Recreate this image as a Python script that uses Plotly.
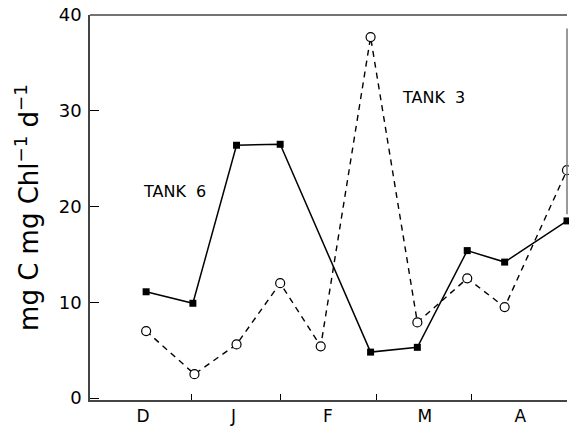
import plotly.graph_objects as go

# Sampling dates (days from start of December)
x_tank6 = [18, 33, 47, 61, 90, 105, 121, 133, 153]
y_tank6 = [11.1, 9.9, 26.4, 26.5, 4.8, 5.3, 15.4, 14.2, 18.5]

x_tank3 = [18, 33.5, 47, 61, 74, 90, 105, 121, 133, 153]
y_tank3 = [7.0, 2.5, 5.6, 12.0, 5.4, 37.7, 7.9, 12.5, 9.5, 23.8]

month_labels = ["D", "J", "F", "M", "A"]
month_label_pos = [17, 46, 76.3, 107.4, 138]
month_bounds = [32.7, 61, 92, 122.5]
y_ticks = [0, 10, 20, 30, 40]

fig = go.Figure()
fig.add_trace(go.Scatter(
    x=x_tank6, y=y_tank6, mode="lines+markers", name="TANK 6",
    line=dict(color="black", width=1.5),
    marker=dict(symbol="square", size=7, color="black"),
    cliponaxis=False, showlegend=False))
fig.add_trace(go.Scatter(
    x=x_tank3, y=y_tank3, mode="lines+markers", name="TANK 3",
    line=dict(color="black", width=1.4, dash="6px,5px"),
    marker=dict(symbol="circle", size=9, color="white",
                line=dict(color="black", width=1.2)),
    cliponaxis=False, showlegend=False))

fig.add_annotation(x=27.1, y=21.6, text="TANK\u00a0\u00a06", showarrow=False,
                   font=dict(size=16, color="black", family="DejaVu Sans"))
fig.add_annotation(x=110.3, y=31.4, text="TANK\u00a0\u00a03", showarrow=False,
                   font=dict(size=16, color="black", family="DejaVu Sans"))

# top border and partial right border
fig.add_shape(type="line", xref="paper", yref="paper", x0=0, x1=1, y0=1, y1=1,
              line=dict(color="#444", width=1.5))
fig.add_shape(type="line", xref="paper", yref="y", x0=1, x1=1, y0=19.2, y1=38.6,
              line=dict(color="#777", width=1.5))

fig.update_layout(
    width=569, height=432,
    margin=dict(l=90, r=2, t=15, b=32),
    plot_bgcolor="white", paper_bgcolor="white",
    font=dict(family="DejaVu Sans", color="black"),
    xaxis=dict(range=[0, 153], tickvals=month_label_pos, ticktext=month_labels,
               ticks="", showgrid=False, zeroline=False,
               showline=True, linecolor="#444", linewidth=1.5,
               tickfont=dict(size=17),
               minor=dict(tickvals=month_bounds, ticks="inside", ticklen=6,
                          tickcolor="black", tickwidth=1.2, showgrid=False)),
    yaxis=dict(range=[-0.2, 40], tickvals=y_ticks, ticks="inside", ticklen=9,
               tickcolor="black", tickwidth=1.2,
               showgrid=False, zeroline=False,
               showline=True, linecolor="#444", linewidth=1.5,
               tickfont=dict(size=18), ticklabelstandoff=3,
               title=dict(text="mg C mg Chl<sup>\u22121</sup> d<sup>\u22121</sup>",
                          font=dict(size=26), standoff=13)),
)

fig.write_html("out.html")
